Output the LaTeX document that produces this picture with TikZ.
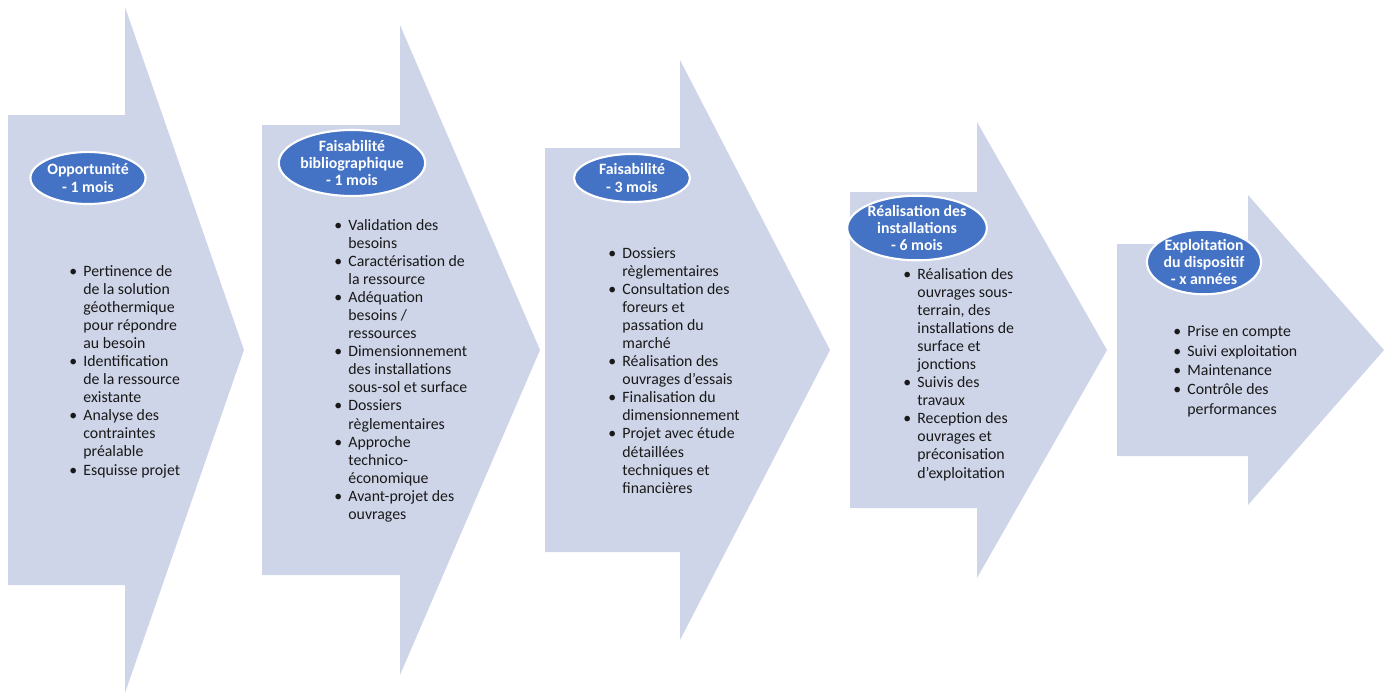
\documentclass[tikz,border=0pt]{standalone}
\usepackage{fontspec}
\setmainfont{Carlito}
\usepackage{tikz}
\usetikzlibrary{shapes.geometric}

\definecolor{fondfleche}{RGB}{206,213,232}
\definecolor{bleuphase}{RGB}{68,114,196}

\tikzset{
    bloc/.style={
           fill=fondfleche,
           },
    phase/.style={
           ellipse,
           fill=bleuphase,
           draw=white, line width=1.2pt,
           inner sep=0pt,
           text=white,
           align=center,
           font=\fontsize{9}{9.8}\selectfont\bfseries,
           },
    liste/.style={
           anchor=north west,
           inner sep=0pt,
           text=black!90,
           font=\fontsize{9}{10.3}\selectfont,
           },
}

% body from x=#1 to x=#2, half heights #3 (body) and #4 (head), tip at x=#5
\newcommand{\fleche}[5]{%
    \fill[bloc] (#1,350-#3) -- (#2,350-#3) -- (#2,350-#4) -- (#5,350)
        -- (#2,350+#4) -- (#2,350+#3) -- (#1,350+#3) -- cycle;}
\newcommand{\puce}{\textbullet}

\begin{document}
\begin{tikzpicture}[x=0.02cm, y=-0.02cm]
    \useasboundingbox (0,0) rectangle (1391,691);

    % the five arrows, getting smaller from left to right
    \fleche{8}{125}{235}{343}{244}
    \fleche{262}{400}{225}{325}{540}
    \fleche{545}{680}{202}{290}{830}
    \fleche{850}{977}{158}{228}{1107}
    \fleche{1117}{1248}{106}{155}{1384}

    % Phase 1
    \node[phase, minimum width=2.08cm, minimum height=1.04cm] (opportunite) at (88,178)
    {Opportunité\\- 1 mois};
    \node[liste] (listeOpp) at (69,263)
    {\begin{tabular}{@{}p{8pt}@{}l@{}}
        \puce & Pertinence de\\
              & de la solution\\
              & géothermique\\
              & pour répondre\\
              & au besoin\\
        \puce & Identification\\
              & de la ressource\\
              & existante\\
        \puce & Analyse des\\
              & contraintes\\
              & préalable\\
        \puce & Esquisse projet
    \end{tabular}};

    % Phase 2
    \node[phase, minimum width=2.76cm, minimum height=1.32cm] (biblio) at (352,163)
    {Faisabilité\\bibliographique\\- 1 mois};
    \node[liste] (listeBiblio) at (334,217)
    {\begin{tabular}{@{}p{8pt}@{}l@{}}
        \puce & Validation des\\
              & besoins\\
        \puce & Caractérisation de\\
              & la ressource\\
        \puce & Adéquation\\
              & besoins /\\
              & ressources\\
        \puce & Dimensionnement\\
              & des installations\\
              & sous-sol et surface\\
        \puce & Dossiers\\
              & règlementaires\\
        \puce & Approche\\
              & technico-\\
              & économique\\
        \puce & Avant-projet des\\
              & ouvrages
    \end{tabular}};

    % Phase 3
    \node[phase, minimum width=2.32cm, minimum height=0.96cm] (faisab) at (632,178)
    {Faisabilité\\- 3 mois};
    \node[liste] (listeFaisab) at (608,245)
    {\begin{tabular}{@{}p{8pt}@{}l@{}}
        \puce & Dossiers\\
              & règlementaires\\
        \puce & Consultation des\\
              & foreurs et\\
              & passation du\\
              & marché\\
        \puce & Réalisation des\\
              & ouvrages d'essais\\
        \puce & Finalisation du\\
              & dimensionnement\\
        \puce & Projet avec étude\\
              & détaillées\\
              & techniques et\\
              & financières
    \end{tabular}};

    % Phase 4
    \node[phase, minimum width=1.84cm, minimum height=1.16cm] (travaux) at (917,228)
    {Réalisation des\\installations\\- 6 mois};
    \node[liste] (listeTravaux) at (903,266)
    {\begin{tabular}{@{}p{8pt}@{}l@{}}
        \puce & Réalisation des\\
              & ouvrages sous-\\
              & terrain, des\\
              & installations de\\
              & surface et\\
              & jonctions\\
        \puce & Suivis des\\
              & travaux\\
        \puce & Reception des\\
              & ouvrages et\\
              & préconisation\\
              & d'exploitation
    \end{tabular}};

    % Phase 5
    \node[phase, minimum width=2.16cm, minimum height=1.24cm] (exploitation) at (1204,262)
    {Exploitation\\du dispositif\\- x années};
    \node[liste, font=\fontsize{9}{11}\selectfont] (listeExpl) at (1173,323)
    {\begin{tabular}{@{}p{8pt}@{}l@{}}
        \puce & Prise en compte\\
        \puce & Suivi exploitation\\
        \puce & Maintenance\\
        \puce & Contrôle des\\
              & performances
    \end{tabular}};
\end{tikzpicture}
\end{document}
